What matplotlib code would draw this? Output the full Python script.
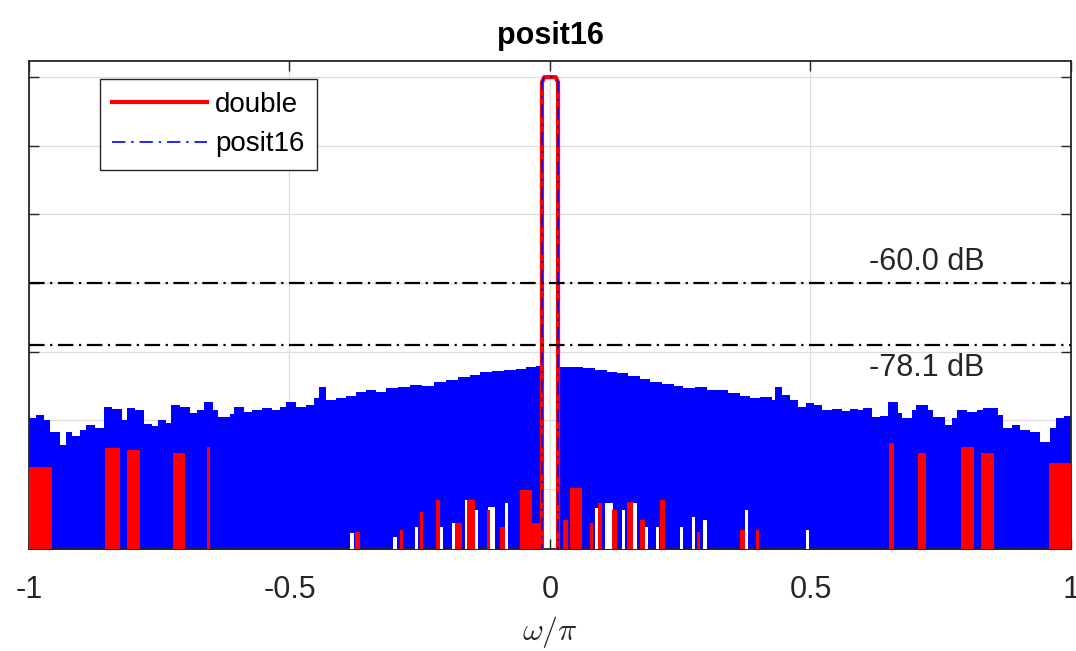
import matplotlib
matplotlib.use("Agg")
import matplotlib.pyplot as plt

plt.rcParams['font.family'] = ['Liberation Sans', 'DejaVu Sans']
plt.rcParams['mathtext.fontset'] = 'cm'

# posit16 spectrum, upper envelope (omega/pi, dB), left and right of the main lobe
left_x = [-1.0, -0.987, -0.971, -0.960, -0.940, -0.929, -0.917, -0.902, -0.891, -0.873,
          -0.856, -0.841, -0.821, -0.812, -0.797, -0.779, -0.764, -0.752, -0.737, -0.727,
          -0.710, -0.691, -0.678, -0.664, -0.647, -0.637, -0.614, -0.607, -0.587, -0.572,
          -0.553, -0.534, -0.518, -0.507, -0.488, -0.468, -0.453, -0.443, -0.430, -0.411,
          -0.392, -0.372, -0.353, -0.334, -0.315, -0.292, -0.269, -0.246, -0.223, -0.200,
          -0.177, -0.154, -0.134, -0.111, -0.088, -0.065, -0.046, -0.027, -0.015]
left_db = [-99.3, -98.5, -99.9, -103.4, -107.2, -103.4, -104.6, -102.8, -101.4, -102.2,
           -96.1, -96.7, -99.9, -96.4, -97.0, -101.1, -101.7, -99.9, -100.8, -95.5,
           -96.1, -97.9, -97.0, -94.7, -97.0, -99.0, -98.2, -96.1, -97.6, -97.0,
           -96.4, -97.0, -96.1, -94.7, -96.1, -95.5, -93.5, -90.3, -94.1, -93.5,
           -92.9, -91.8, -91.2, -91.8, -90.6, -90.3, -89.7, -90.0, -88.8, -88.3,
           -87.4, -86.8, -85.9, -85.6, -85.3, -85.0, -84.5, -84.2, -84.2]
right_x = [0.015, 0.038, 0.063, 0.086, 0.109, 0.129, 0.150, 0.173, 0.192, 0.215,
           0.238, 0.255, 0.278, 0.301, 0.321, 0.342, 0.365, 0.384, 0.403, 0.426,
           0.432, 0.445, 0.461, 0.476, 0.491, 0.507, 0.522, 0.541, 0.560, 0.576,
           0.591, 0.601, 0.618, 0.633, 0.649, 0.668, 0.676, 0.695, 0.702, 0.726,
           0.735, 0.758, 0.772, 0.781, 0.800, 0.820, 0.831, 0.860, 0.869, 0.887,
           0.902, 0.921, 0.940, 0.960, 0.971, 0.987, 1.0]
right_db = [-84.5, -84.5, -84.8, -85.3, -85.9, -86.2, -87.1, -88.0, -88.8, -89.4,
            -90.0, -90.6, -90.3, -91.2, -91.2, -92.0, -92.9, -93.5, -93.2, -94.1,
            -90.3, -92.6, -94.1, -96.1, -95.0, -95.5, -97.0, -96.7, -97.3, -96.7,
            -97.0, -96.4, -99.0, -98.7, -94.7, -97.9, -99.3, -97.0, -95.5, -97.0,
            -99.0, -101.4, -99.3, -97.0, -97.6, -97.0, -96.4, -98.5, -102.2, -101.4,
            -102.8, -103.4, -106.3, -102.2, -99.3, -98.7, -98.7]

# notches where posit16 does not reach the floor (centre, width, top dB)
gap_x = [-0.380, -0.298, -0.256, -0.208, -0.185, -0.160, -0.141, -0.112, -0.083,
         0.089, 0.113, 0.141, 0.163, 0.185, 0.207, 0.252, 0.275, 0.298, 0.377, 0.494]
gap_w = [0.008, 0.008, 0.006, 0.006, 0.006, 0.006, 0.006, 0.013, 0.006,
         0.006, 0.015, 0.006, 0.008, 0.006, 0.006, 0.006, 0.006, 0.008, 0.006, 0.006]
gap_top = [-132.8, -134.0, -131.1, -131.1, -129.9, -123.2, -126.1, -125.3, -124.1,
           -125.5, -124.1, -126.1, -124.1, -131.1, -131.1, -131.1, -128.2, -129.0, -126.1, -132.0]

# double spectrum, visible spurs (centre, width, top dB)
dbl_x = [-0.981, -0.840, -0.799, -0.712, -0.655, 0.655, 0.714, 0.801, 0.840, 0.983,
         -0.369, -0.285, -0.247, -0.215, -0.176, -0.152, -0.118, -0.091, -0.046, -0.027,
         0.030, 0.050, 0.080, 0.096, 0.124, 0.154, 0.178, 0.216, 0.285, 0.369, 0.398]
dbl_w = [0.050, 0.029, 0.025, 0.023, 0.006, 0.010, 0.015, 0.025, 0.025, 0.050,
         0.010, 0.006, 0.005, 0.008, 0.013, 0.015, 0.006, 0.010, 0.023, 0.015,
         0.010, 0.023, 0.006, 0.008, 0.010, 0.012, 0.010, 0.010, 0.006, 0.010, 0.006]
dbl_top = [-113.6, -108.1, -108.7, -109.5, -107.8, -106.6, -109.5, -107.8, -109.5, -112.4,
           -132.5, -132.0, -126.7, -123.2, -129.9, -123.2, -126.1, -131.1, -120.3, -129.9,
           -129.0, -119.7, -129.9, -124.1, -126.1, -123.8, -129.0, -123.2, -132.5, -132.0, -132.0]

# main lobe, same for both
lobe_x = [-0.0154, -0.0154, -0.011, 0.011, 0.0154, 0.0154]
lobe_db = [-140, -1.5, 0, 0, -1.5, -140]

levels = [-60.0, -78.1]
level_labels = ['-60.0 dB', '-78.1 dB']
level_text_y = [-53.9, -84.8]

floor = -140
ymin, ymax = -137.5, 4.7

fig = plt.figure(figsize=(10.76, 6.51), dpi=100)
ax = fig.add_axes([0.02695, 0.1567, 0.9684, 0.7496])

ax.fill_between(left_x, floor, left_db, step='post', color='blue', lw=0, zorder=2)
ax.fill_between(right_x, floor, right_db, step='post', color='blue', lw=0, zorder=2)
ax.bar(gap_x, [t - floor for t in gap_top], width=gap_w, bottom=floor,
       color='white', lw=0, zorder=3)
ax.bar(dbl_x, [t - floor for t in dbl_top], width=dbl_w, bottom=floor,
       color='red', lw=0, zorder=4)

ax.plot(lobe_x, lobe_db, color='red', lw=3.0, label='double', zorder=5)
ax.plot(lobe_x, lobe_db, color='blue', lw=1.2, ls=(0, (8, 3.5, 1.5, 3.5)),
        label='posit16', zorder=6)

for lv, lab, ty in zip(levels, level_labels, level_text_y):
    ax.axhline(lv, color='black', lw=1.6, ls=(0, (7, 2.5, 1, 2.5)), zorder=7)
    ax.text(0.723, ty, lab, fontsize=22, ha='center', va='center', color='#262626', zorder=8)

ax.set_xlim(-1, 1)
ax.set_ylim(ymin, ymax)
ax.set_xticks([-1, -0.5, 0, 0.5, 1])
ax.set_xticklabels(['-1', '-0.5', '0', '0.5', '1'])
ax.set_yticks([0, -20, -40, -60, -80, -100, -120])
ax.tick_params(axis='both', direction='in', top=True, right=True, length=7, width=1,
               color='#262626', labelsize=22, labelcolor='#262626', labelleft=False)
ax.tick_params(axis='x', pad=19)
ax.grid(True, color='#dedede', lw=0.9)
ax.set_axisbelow(True)
for sp in ax.spines.values():
    sp.set_color('#262626')
    sp.set_linewidth(1.3)

ax.set_title('posit16', fontsize=22, fontweight='bold', pad=12, color='black')
ax.set_xlabel(r'$\omega/\pi$', fontsize=23, labelpad=6, color='#262626')

leg = ax.legend(loc='upper left', bbox_to_anchor=(0.068, 0.963), borderaxespad=0,
                fontsize=20, handlelength=3.4, handletextpad=0.3, labelspacing=0.5,
                borderpad=0.45, fancybox=False, framealpha=1, edgecolor='#262626')
leg.get_frame().set_linewidth(1.0)
leg.set_zorder(10)

fig.savefig('out.png', dpi=100)
